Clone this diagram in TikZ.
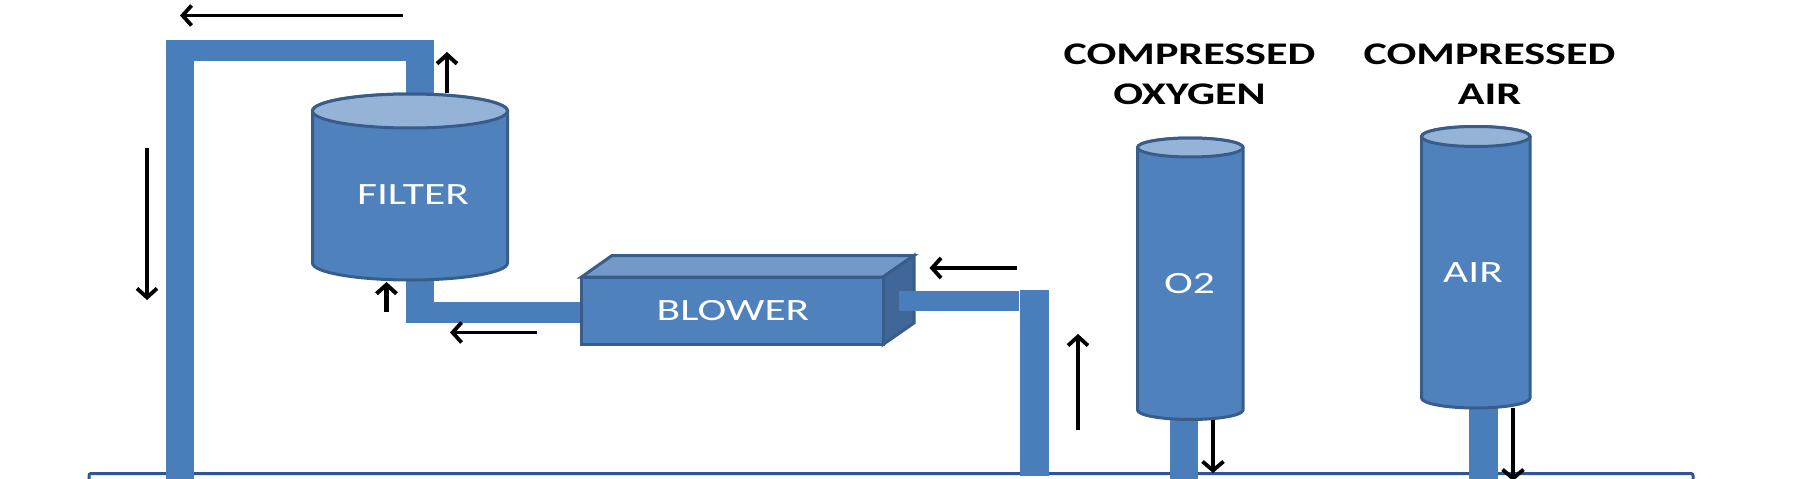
\documentclass[tikz,border=0pt]{standalone}
\usepackage{fontspec}
\setmainfont{Carlito}[FakeStretch=1.4]
\usetikzlibrary{arrows.meta}
\definecolor{bodyblue}{HTML}{4F81BD}
\definecolor{pipeblue}{HTML}{4A7EBB}
\definecolor{lidblue}{HTML}{95B3D7}
\definecolor{edgeblue}{HTML}{385D8A}
\definecolor{blowertop}{HTML}{7299C8}
\definecolor{blowerside}{HTML}{3F6797}
\definecolor{basedark}{HTML}{2F5597}
\newcommand{\tankdraw}[5]{%
  \pgfmathsetmacro{\cxv}{(#1+#2)/2}
  \pgfmathsetmacro{\rxv}{(#2-#1)/2}
  \draw[tankedge,fill=bodyblue] (#1,#3) -- (#1,#4)
    arc[start angle=180,end angle=0,x radius=\rxv,y radius=#5] -- (#2,#3)
    arc[start angle=0,end angle=-180,x radius=\rxv,y radius=#5] -- cycle;
  \draw[tankedge,fill=lidblue] (\cxv,#3) ellipse[x radius=\rxv,y radius=#5];
}
\tikzset{
  tankedge/.style={draw=edgeblue,line width=3pt},
  pipe/.style={fill=pipeblue},
  flow/.style={black,line width=3.8pt,-{Straight Barb[length=9pt,width=20pt,line width=3.8pt]}},
  thinflow/.style={black,line width=3.2pt,-{Straight Barb[length=9pt,width=21pt,line width=3.8pt]}},
  thickflow/.style={black,line width=4.4pt,-{Straight Barb[length=9pt,width=20pt,line width=4pt]}},
  inlabel/.style={text=white,font=\fontsize{31}{37}\selectfont,inner sep=0pt,anchor=center},
  toplabel/.style={text=black,font=\fontsize{31.5}{40}\selectfont\bfseries,inner sep=0pt,align=center,anchor=center},
}
\begin{document}
\begin{tikzpicture}[x=1pt,y=-1pt]
\useasboundingbox (0,0) rectangle (1796,479);
\clip (0,0) rectangle (1796,479);
% base unit
\draw[draw=basedark,line width=3pt,fill=white,rounded corners=2pt] (89,473.5) rectangle (1693,520);
% pipes
\fill[pipe] (166,40) rectangle (194,479);
\fill[pipe] (194,40) rectangle (406,61);
\fill[pipe] (406,40) rectangle (434,100);
\fill[pipe] (406,270) rectangle (434,323);
\fill[pipe] (434,302) rectangle (590,323);
\fill[pipe] (1170,410) rectangle (1198,479);
\fill[pipe] (1469,400) rectangle (1498,479);
% filter and cylinders
\tankdraw{312.5}{507.5}{111}{263}{17}
\tankdraw{1137.5}{1243}{147.5}{410}{9.5}
\tankdraw{1421.5}{1530}{136.5}{398}{10}
% blower
\draw[tankedge,fill=blowertop] (581.5,277) -- (612,255.5) -- (914,255.5) -- (883,277) -- cycle;
\draw[tankedge,fill=blowerside] (883,277) -- (914,255.5) -- (914,323) -- (883,344.5) -- cycle;
\draw[tankedge,fill=bodyblue] (581.5,277) rectangle (883,344.5);
\fill[pipe] (899,291) rectangle (1019,311);
\fill[pipe] (1020,290) rectangle (1049,476);
% labels
\node[inlabel] (filter) at (413,195) {FILTER};
\node[inlabel] (blower) at (733,311) {BLOWER};
\node[inlabel] (otwo) at (1189.5,284) {O2};
\node[inlabel] (air) at (1473,273) {AIR};
\node[toplabel] (coxy) at (1189.5,74) {COMPRESSED\\OXYGEN};
\node[toplabel] (cair) at (1489.5,74) {COMPRESSED\\AIR};
% flow arrows
\coordinate (a1s) at (403,15.5); \coordinate (a1e) at (180,15.5);
\coordinate (a2s) at (447,93);   \coordinate (a2e) at (447,52);
\coordinate (a3s) at (147,148);  \coordinate (a3e) at (147,300);
\coordinate (a4s) at (386.5,312);\coordinate (a4e) at (386.5,282);
\coordinate (a5s) at (537,332.5);\coordinate (a5e) at (450,332.5);
\coordinate (a6s) at (1017,268); \coordinate (a6e) at (929.5,268);
\coordinate (a7s) at (1078,430); \coordinate (a7e) at (1078,334);
\coordinate (a8s) at (1213,420); \coordinate (a8e) at (1213,473);
\coordinate (a9s) at (1513,408); \coordinate (a9e) at (1513,481);
\draw[flow] (a1s) -- (a1e);
\draw[thickflow] (a2s) -- (a2e);
\draw[flow] (a3s) -- (a3e);
\draw[thickflow] (a4s) -- (a4e);
\draw[flow] (a5s) -- (a5e);
\draw[flow] (a6s) -- (a6e);
\draw[flow] (a7s) -- (a7e);
\draw[thinflow] (a8s) -- (a8e);
\draw[thinflow] (a9s) -- (a9e);
\end{tikzpicture}
\end{document}
